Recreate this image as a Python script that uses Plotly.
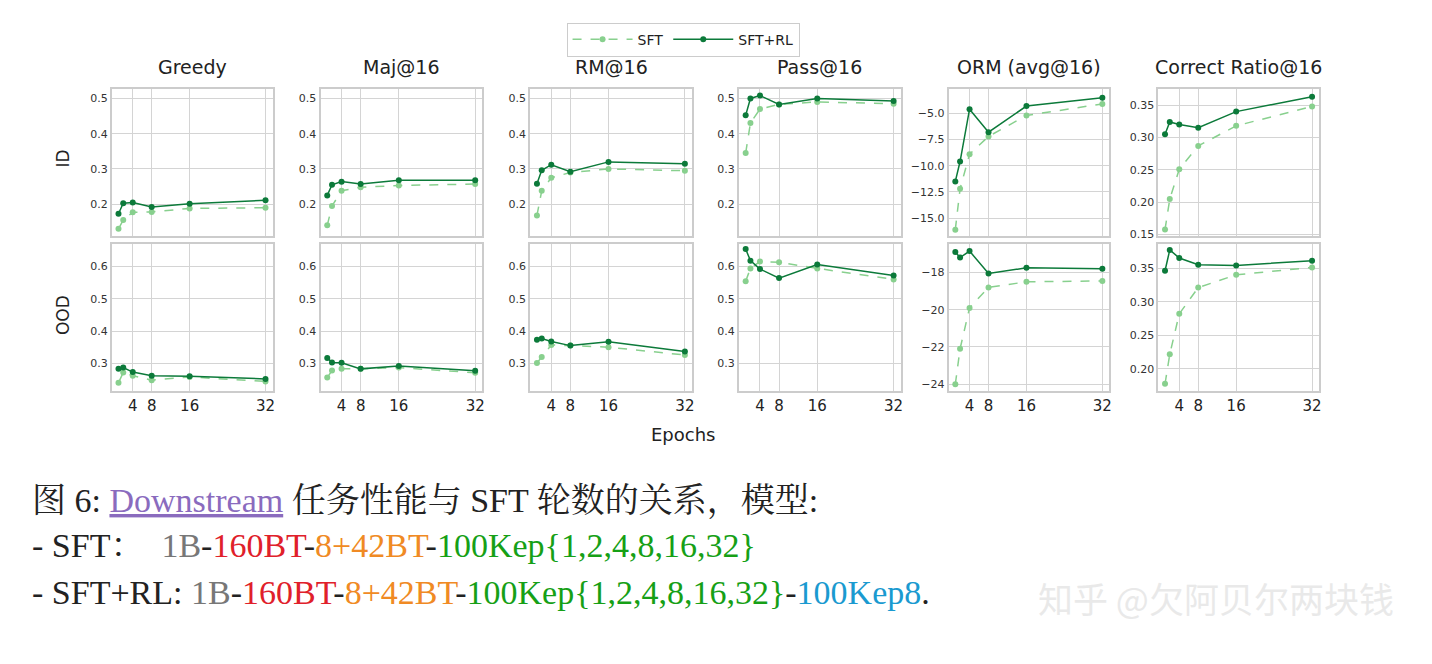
import plotly.graph_objects as go

epochs = [1, 2, 4, 8, 16, 32]
metrics = ["Greedy", "Maj@16", "RM@16", "Pass@16", "ORM (avg@16)", "Correct Ratio@16"]

sft_id = {
    "Greedy": [0.13, 0.155, 0.177, 0.178, 0.188, 0.19],
    "Maj@16": [0.14, 0.195, 0.238, 0.248, 0.253, 0.257],
    "RM@16": [0.168, 0.238, 0.275, 0.29, 0.3, 0.295],
    "Pass@16": [0.345, 0.43, 0.47, 0.483, 0.49, 0.485],
    "ORM (avg@16)": [-16.1, -12.2, -8.9, -7.2, -5.2, -4.1],
    "Correct Ratio@16": [0.158, 0.205, 0.251, 0.287, 0.318, 0.348],
}
rl_id = {
    "Greedy": [0.173, 0.203, 0.205, 0.192, 0.201, 0.211],
    "Maj@16": [0.225, 0.255, 0.264, 0.257, 0.268, 0.268],
    "RM@16": [0.258, 0.296, 0.312, 0.292, 0.32, 0.315],
    "Pass@16": [0.452, 0.5, 0.508, 0.483, 0.5, 0.493],
    "ORM (avg@16)": [-11.5, -9.6, -4.6, -6.8, -4.3, -3.5],
    "Correct Ratio@16": [0.305, 0.324, 0.32, 0.315, 0.34, 0.363],
}
sft_ood = {
    "Greedy": [0.24, 0.272, 0.262, 0.248, 0.258, 0.244],
    "Maj@16": [0.256, 0.278, 0.283, 0.283, 0.287, 0.271],
    "RM@16": [0.301, 0.32, 0.357, 0.355, 0.35, 0.326],
    "Pass@16": [0.554, 0.594, 0.615, 0.613, 0.594, 0.56],
    "ORM (avg@16)": [-24.0, -22.1, -19.9, -18.8, -18.5, -18.45],
    "Correct Ratio@16": [0.178, 0.222, 0.282, 0.321, 0.34, 0.351],
}
rl_ood = {
    "Greedy": [0.283, 0.287, 0.273, 0.262, 0.26, 0.252],
    "Maj@16": [0.317, 0.303, 0.302, 0.283, 0.292, 0.277],
    "RM@16": [0.373, 0.377, 0.368, 0.355, 0.367, 0.337],
    "Pass@16": [0.654, 0.618, 0.592, 0.564, 0.606, 0.572],
    "ORM (avg@16)": [-16.9, -17.2, -16.85, -18.05, -17.75, -17.8],
    "Correct Ratio@16": [0.346, 0.377, 0.365, 0.355, 0.354, 0.361],
}

W, H = 1432, 664
OFF = 8  # page body margin
def px(x): return (x - OFF) / W
def py(y): return 1 - (y - OFF) / H

col_px = [(112, 273), (321, 483), (531, 693), (740, 902), (950, 1111), (1160, 1321)]
row_px = [(90, 238), (246, 394)]
yr = {
    (0, "shared"): [0.11, 0.526], (1, "shared"): [0.216, 0.67],
    (0, "ORM (avg@16)"): [-16.7, -2.7], (1, "ORM (avg@16)"): [-24.34, -16.46],
    (0, "Correct Ratio@16"): [0.148, 0.3745], (1, "Correct Ratio@16"): [0.168, 0.386],
}
ytv = {
    (0, "shared"): [0.2, 0.3, 0.4, 0.5], (1, "shared"): [0.3, 0.4, 0.5, 0.6],
    (0, "ORM (avg@16)"): [-15, -12.5, -10, -7.5, -5], (1, "ORM (avg@16)"): [-24, -22, -20, -18],
    (0, "Correct Ratio@16"): [0.15, 0.2, 0.25, 0.3, 0.35], (1, "Correct Ratio@16"): [0.2, 0.25, 0.3, 0.35],
}
ytt = {
    (0, "ORM (avg@16)"): ["−15.0", "−12.5", "−10.0", "−7.5", "−5.0"],
    (1, "ORM (avg@16)"): ["−24", "−22", "−20", "−18"],
    (0, "Correct Ratio@16"): ["0.15", "0.20", "0.25", "0.30", "0.35"],
    (1, "Correct Ratio@16"): ["0.20", "0.25", "0.30", "0.35"],
}

light = "#88d08e"
dark = "#0c7a3a"
fig = go.Figure()
layout = {}
idx = 0
for r in range(2):
    for c, m in enumerate(metrics):
        idx += 1
        sfx = "" if idx == 1 else str(idx)
        xa, ya = "x" + sfx, "y" + sfx
        s = (sft_id if r == 0 else sft_ood)[m]
        q = (rl_id if r == 0 else rl_ood)[m]
        fig.add_trace(go.Scatter(x=epochs, y=s, xaxis=xa, yaxis=ya, name="SFT",
                                 mode="lines+markers", line=dict(color=light, width=1.5, dash="dash"),
                                 marker=dict(size=6, color=light), showlegend=(idx == 1)))
        fig.add_trace(go.Scatter(x=epochs, y=q, xaxis=xa, yaxis=ya, name="SFT+RL",
                                 mode="lines+markers", line=dict(color=dark, width=1.5),
                                 marker=dict(size=6, color=dark), showlegend=(idx == 1)))
        key = (r, m if m in ("ORM (avg@16)", "Correct Ratio@16") else "shared")
        x0, x1 = col_px[c]
        y0, y1 = row_px[r]
        common = dict(showline=True, mirror=True, linecolor="#cccccc", linewidth=2,
                      gridcolor="#d4d4d4", gridwidth=1, zeroline=False, ticks="")
        layout["xaxis" + sfx] = dict(domain=[px(x0), px(x1)], anchor=ya, range=[-0.4, 33.5],
                                     tickvals=[4, 8, 16, 32], showticklabels=(r == 1),
                                     tickfont=dict(size=15, color="#222", family="DejaVu Sans"), **common)
        yd = dict(domain=[py(y1), py(y0)], anchor=xa, range=yr[key], tickvals=ytv[key],
                  tickfont=dict(size=11, color="#333", family="DejaVu Sans"), **common)
        if key in ytt:
            yd["ticktext"] = ytt[key]
        layout["yaxis" + sfx] = yd

ann = []
for c, m in enumerate(metrics):
    ann.append(dict(text=m, x=px((col_px[c][0] + col_px[c][1]) / 2), y=py(68), xref="paper", yref="paper",
                    xanchor="center", yanchor="middle",
                    showarrow=False, font=dict(size=19, color="#222", family="DejaVu Sans")))
ann.append(dict(text="ID", x=px(63), y=py(160), xref="paper", yref="paper", textangle=-90,
                xanchor="center", yanchor="middle",
                showarrow=False, font=dict(size=17, color="#222", family="DejaVu Sans")))
ann.append(dict(text="OOD", x=px(63), y=py(318), xref="paper", yref="paper", textangle=-90,
                xanchor="center", yanchor="middle",
                showarrow=False, font=dict(size=17, color="#222", family="DejaVu Sans")))
ann.append(dict(text="Epochs", x=px(684), y=py(438), xref="paper", yref="paper",
                xanchor="center", yanchor="middle",
                showarrow=False, font=dict(size=18, color="#222", family="DejaVu Sans")))

serif = "Liberation Serif, Noto Serif CJK SC, Noto Sans CJK SC"
gray, red, orange, green, blue = "#777777", "#e0202a", "#f08a24", "#16a016", "#1a9ad0"
cap = [
    (505, '图 6: <span style="color:#8a6bbe"><u>Downstream</u></span> 任务性能与 SFT 轮数的关系，模型:'),
    (550, f'- SFT：  <span style="color:{gray}">1B</span>-<span style="color:{red}">160BT</span>-'
          f'<span style="color:{orange}">8+42BT</span>-<span style="color:{green}">100Kep{{1,2,4,8,16,32}}</span>'),
    (598, f'- SFT+RL: <span style="color:{gray}">1B</span>-<span style="color:{red}">160BT</span>-'
          f'<span style="color:{orange}">8+42BT</span>-<span style="color:{green}">100Kep{{1,2,4,8,16,32}}</span>-'
          f'<span style="color:{blue}">100Kep8</span>.'),
]
for yy, t in cap:
    ann.append(dict(text=t, x=px(30), y=py(yy), xref="paper", yref="paper", xanchor="left", yanchor="middle",
                    showarrow=False, font=dict(size=34, color="#222", family=serif)))
ann.append(dict(text="知乎 @欠阿贝尔两块钱", x=px(1398), y=py(603), xref="paper", yref="paper",
                xanchor="right", yanchor="middle", showarrow=False,
                font=dict(size=35, color="rgba(232,232,232,0.95)", family="Noto Sans CJK SC")))

fig.update_layout(**layout)
fig.update_layout(
    width=W, height=H, margin=dict(l=0, r=0, t=0, b=0),
    plot_bgcolor="white", paper_bgcolor="white", annotations=ann,
    legend=dict(orientation="h", x=px(684), y=py(40), xanchor="center", yanchor="middle",
                itemwidth=60, bordercolor="#cccccc", borderwidth=1,
                font=dict(size=14, color="#222", family="DejaVu Sans")),
)
fig.write_html("out.html")
